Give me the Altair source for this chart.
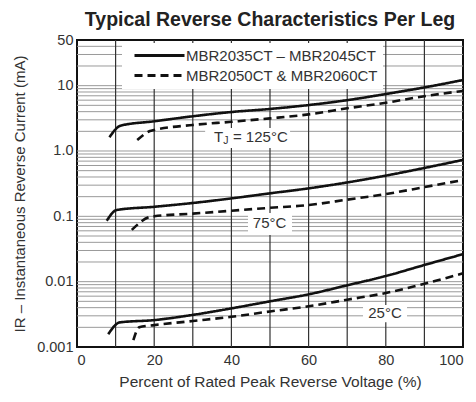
import altair as alt
import pandas as pd

# ---- data ----
SERIES = ["MBR2035CT – MBR2045CT", "MBR2050CT & MBR2060CT"]

solid_125_x = [8.4, 11.3, 20, 30, 40, 50, 60, 70, 80, 90, 100]
solid_125_y = [1.62, 2.44, 2.85, 3.4, 3.95, 4.4, 5.05, 6.0, 7.45, 9.4, 12.2]
dash_125_x = [15.6, 18.9, 20, 30, 40, 50, 60, 70, 80, 90, 100]
dash_125_y = [1.47, 2.02, 2.1, 2.5, 2.8, 3.16, 3.64, 4.5, 5.48, 6.9, 8.3]

solid_75_x = [7.7, 10.3, 20, 30, 40, 50, 60, 70, 80, 90, 100]
solid_75_y = [0.0855, 0.125, 0.14, 0.16, 0.188, 0.225, 0.268, 0.33, 0.42, 0.55, 0.73]
dash_75_x = [14.2, 18.9, 20, 30, 40, 50, 60, 70, 80, 90, 100]
dash_75_y = [0.062, 0.098, 0.1, 0.11, 0.122, 0.135, 0.149, 0.18, 0.219, 0.28, 0.36]

solid_25_x = [8.1, 11.1, 20, 30, 40, 50, 60, 70, 80, 90, 100]
solid_25_y = [0.00157, 0.00238, 0.00258, 0.0031, 0.0039, 0.005, 0.0064, 0.0088, 0.0122, 0.018, 0.0264]
dash_25_x = [14.6, 16.1, 20, 30, 40, 50, 60, 70, 80, 90, 100]
dash_25_y = [0.00127, 0.002, 0.00216, 0.0025, 0.0029, 0.0035, 0.0042, 0.0053, 0.0067, 0.0093, 0.0134]

x_ticks = [0, 20, 40, 60, 80, 100]
y_ticks = [0.001, 0.01, 0.1, 1, 10, 50]
y_tick_labels = ["0.001", "0.01", "0.1", "1.0", "10", "50"]

v_grid = [10, 20, 30, 40, 50, 60, 70, 80, 90]
h_grid = [k * 10.0 ** e for e in range(-3, 1) for k in range(1, 10)][1:] + [10, 20, 30, 40]

# temperature labels (white boxes behind them)
box_x1 = [33.2, 44.3, 74.1]
box_x2 = [55.2, 55.7, 85.5]
box_y1 = [1.11, 0.0516, 0.0024]
box_y2 = [2.24, 0.112, 0.00438]

lab_text = ["75°C", "25°C"]
lab_x = [49.9, 79.8]
lab_y = [0.078, 0.0033]

tj_text = ["T", "J", "= 125°C"]
tj_x = [36.7, 38.6, 40.4]
tj_y = [1.64, 1.64, 1.64]

# ---- build tables ----
rows = []
for name, temp, xs, ys in [
    (SERIES[0], "125", solid_125_x, solid_125_y),
    (SERIES[1], "125", dash_125_x, dash_125_y),
    (SERIES[0], "75", solid_75_x, solid_75_y),
    (SERIES[1], "75", dash_75_x, dash_75_y),
    (SERIES[0], "25", solid_25_x, solid_25_y),
    (SERIES[1], "25", dash_25_x, dash_25_y),
]:
    for xv, yv in zip(xs, ys):
        rows.append({"series": name, "temp": temp, "curve": name + temp, "x": xv, "y": yv})
df = pd.DataFrame(rows)

FONT = "Liberation Sans"
TXT = "#333333"

xscale = alt.Scale(domain=[0, 100], nice=False, zero=False)
yscale = alt.Scale(type="log", domain=[0.001, 50], nice=False)

ymap = " : ".join(
    [f"datum.value < {v * 1.01} && datum.value > {v * 0.99} ? '{t}'" for v, t in zip(y_ticks, y_tick_labels)]
) + " : ''"

x_axis = alt.Axis(values=x_ticks, title="Percent of Rated Peak Reverse Voltage (%)", grid=False,
                  ticks=False, domain=False, labelPadding=6, titlePadding=8,
                  labelFontSize=14.5, titleFontSize=15.5, labelFont=FONT, titleFont=FONT,
                  labelColor=TXT, titleColor=TXT, titleFontWeight="normal")
y_axis = alt.Axis(values=y_ticks, labelExpr=ymap,
                  title="IR – Instantaneous Reverse Current (mA)", grid=False,
                  ticks=False, domain=False, labelPadding=4, titlePadding=9,
                  labelFontSize=14.5, titleFontSize=15, labelFont=FONT, titleFont=FONT,
                  labelColor=TXT, titleColor=TXT, titleFontWeight="normal")

hg = alt.Chart(pd.DataFrame({"y": h_grid})).mark_rule(color="#9a9a9a", strokeWidth=1).encode(
    y=alt.Y("y:Q", scale=yscale, axis=y_axis))
vg = alt.Chart(pd.DataFrame({"x": v_grid})).mark_rule(color="#333333", strokeWidth=1.2).encode(
    x=alt.X("x:Q", scale=xscale, axis=x_axis))

boxes = alt.Chart(pd.DataFrame({"x1": box_x1, "x2": box_x2, "y1": box_y1, "y2": box_y2})).mark_rect(
    color="white").encode(
    x=alt.X("x1:Q", scale=xscale), x2="x2:Q",
    y=alt.Y("y1:Q", scale=yscale), y2="y2:Q")

lines = alt.Chart(df).mark_line(color="#111111", strokeWidth=2.6, interpolate="monotone").encode(
    x=alt.X("x:Q", scale=xscale),
    y=alt.Y("y:Q", scale=yscale),
    detail="curve:N",
    strokeDash=alt.StrokeDash(
        "series:N",
        scale=alt.Scale(domain=SERIES, range=[[1, 0], [8, 5]]),
        legend=alt.Legend(title=None, orient="none", legendX=45, legendY=3,
                          fillColor="white", padding=5,
                          symbolType="M0,0H10", symbolSize=100, symbolStrokeWidth=3,
                          symbolStrokeColor="#111111",
                          labelFontSize=15, labelFont=FONT, labelColor=TXT, labelLimit=400,
                          labelOffset=44, rowPadding=4),
    ),
)

labels = alt.Chart(pd.DataFrame({"x": lab_x, "y": lab_y, "t": lab_text})).mark_text(
    fontSize=15, font=FONT, color=TXT).encode(
    x=alt.X("x:Q", scale=xscale), y=alt.Y("y:Q", scale=yscale), text="t:N")

tj = pd.DataFrame({"x": tj_x, "y": tj_y, "t": tj_text})
tj_T = alt.Chart(tj.iloc[[0]]).mark_text(fontSize=15, font=FONT, color=TXT).encode(
    x=alt.X("x:Q", scale=xscale), y=alt.Y("y:Q", scale=yscale), text="t:N")
tj_J = alt.Chart(tj.iloc[[1]]).mark_text(fontSize=10.5, font=FONT, color=TXT, dy=4).encode(
    x=alt.X("x:Q", scale=xscale), y=alt.Y("y:Q", scale=yscale), text="t:N")
tj_R = alt.Chart(tj.iloc[[2]]).mark_text(fontSize=15, font=FONT, color=TXT, align="left").encode(
    x=alt.X("x:Q", scale=xscale), y=alt.Y("y:Q", scale=yscale), text="t:N")

chart = alt.layer(hg, vg, boxes, lines, labels, tj_T, tj_J, tj_R).properties(
    width=386, height=307,
    title=alt.TitleParams("Typical Reverse Characteristics Per Leg", fontSize=19.5, font=FONT,
                          fontWeight="bold", color="#222222", anchor="middle", offset=2),
    autosize=alt.AutoSizeParams(type="none"),
    padding={"left": 69, "top": 32, "right": 5, "bottom": 47},
).configure_view(stroke="#111111", strokeWidth=2)

chart.save("out.html", embed_options={"renderer": "svg", "actions": False})
